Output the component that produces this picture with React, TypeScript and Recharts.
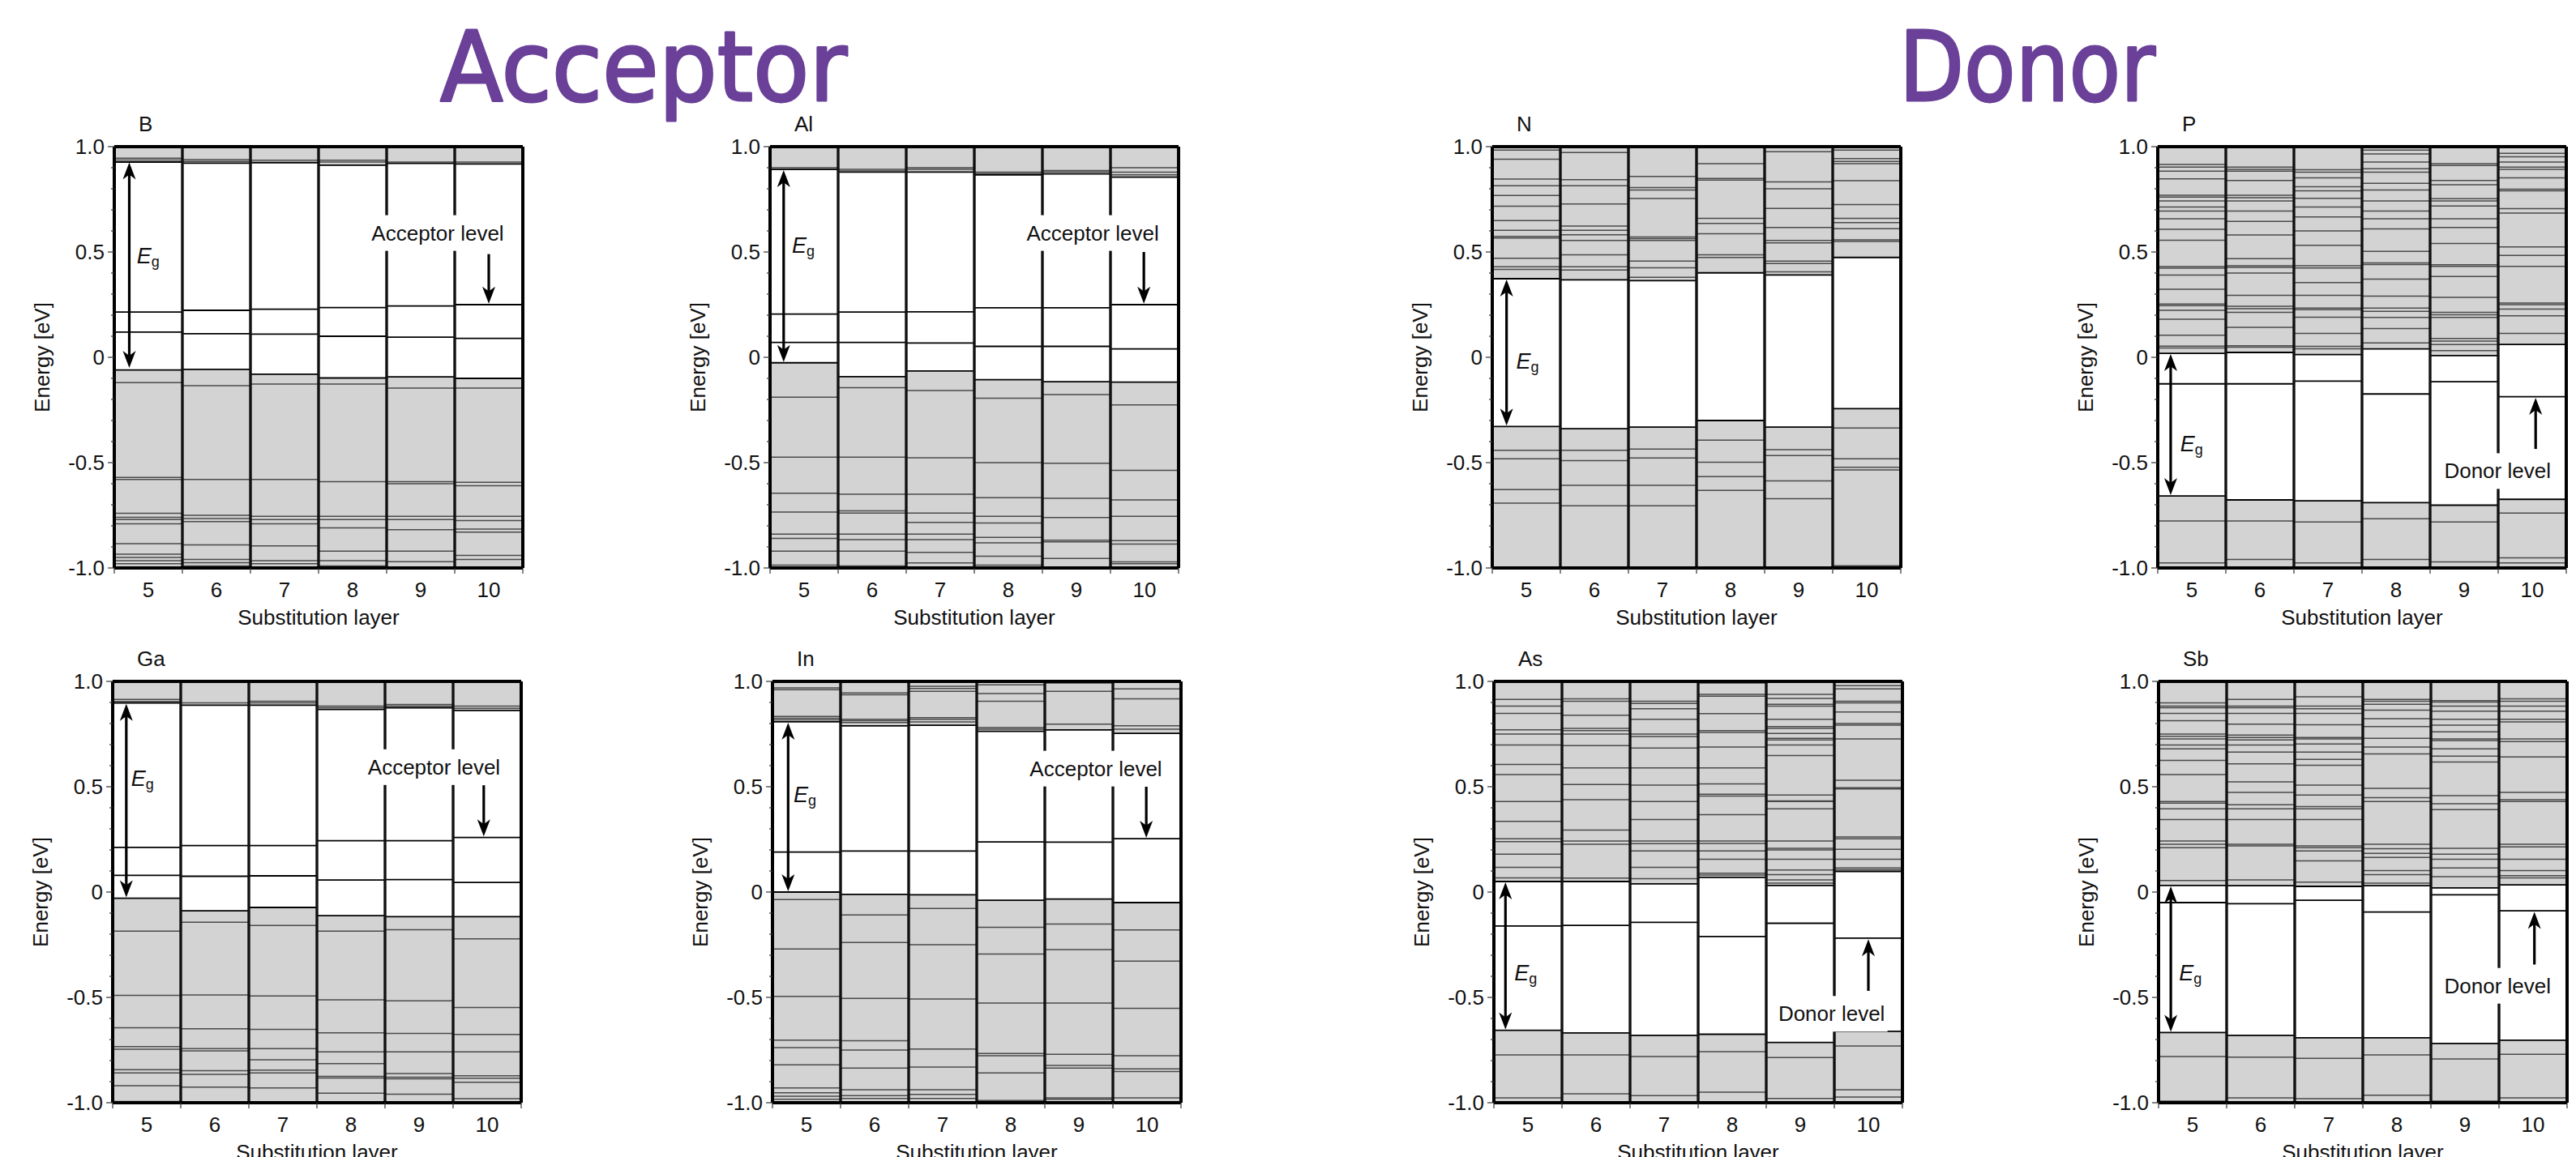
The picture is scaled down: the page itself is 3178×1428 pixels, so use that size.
import { ComposedChart, Bar, XAxis, YAxis, ReferenceLine, ReferenceDot, Label } from 'recharts';

// substitution layers and axis ticks
const LAYERS = [5, 6, 7, 8, 9, 10];
const X_TICKS = [4.5, 5, 5.5, 6, 6.5, 7, 7.5, 8, 8.5, 9, 9.5, 10, 10.5];
const Y_TICKS = [-1, -0.9, -0.8, -0.7, -0.6, -0.5, -0.4, -0.3, -0.2, -0.1, 0, 0.1, 0.2, 0.3, 0.4, 0.5, 0.6, 0.7, 0.8, 0.9, 1];
const Y_MAJOR = [-1, -0.5, 0, 0.5, 1];
const Y_MAJOR_LABELS = ['-1.0', '-0.5', '0', '0.5', '1.0'];

// ---- B ----
const B_VBM = [-0.06, -0.057, -0.08, -0.098, -0.093, -0.1];
const B_CBM = [0.927, 0.922, 0.924, 0.912, 0.921, 0.918];
const B_CB = [[0.945, 0.937], [0.938, 0.93], [0.936], [0.936, 0.927], [0.927], [0.927]];
const B_GAP = [[0.215, 0.12], [0.223, 0.112], [0.228, 0.11], [0.236, 0.1], [0.244, 0.096], [0.25, 0.09]];
const B_VB = [
  [-0.12, -0.57, -0.58, -0.74, -0.76, -0.77, -0.79, -0.885, -0.935, -0.95, -0.965, -0.98, -0.995],
  [-0.135, -0.58, -0.75, -0.765, -0.78, -0.89, -0.96, -0.975, -0.99],
  [-0.127, -0.58, -0.755, -0.77, -0.79, -0.895, -0.965, -0.98, -0.995],
  [-0.127, -0.59, -0.755, -0.77, -0.81, -0.92, -0.965, -0.99],
  [-0.146, -0.59, -0.6, -0.755, -0.77, -0.818, -0.92, -0.97],
  [-0.146, -0.593, -0.61, -0.755, -0.775, -0.815, -0.83, -0.94, -0.96],
];

// ---- Al ----
const AL_VBM = [-0.026, -0.092, -0.065, -0.106, -0.116, -0.118];
const AL_CBM = [0.892, 0.879, 0.879, 0.866, 0.871, 0.855];
const AL_CB = [[0.9], [0.892, 0.885], [0.9, 0.892], [0.879, 0.872], [0.887, 0.88], [0.9, 0.879, 0.866]];
const AL_GAP = [[0.205, 0.071], [0.215, 0.071], [0.216, 0.068], [0.235, 0.052], [0.235, 0.052], [0.25, 0.04]];
const AL_VB = [
  [-0.189, -0.474, -0.645, -0.735, -0.839, -0.86, -0.92, -0.987],
  [-0.144, -0.474, -0.65, -0.729, -0.739, -0.839, -0.865, -0.92, -0.99],
  [-0.158, -0.477, -0.65, -0.739, -0.784, -0.839, -0.865, -0.926, -0.976],
  [-0.194, -0.5, -0.666, -0.755, -0.787, -0.855, -0.881, -0.944, -0.987],
  [-0.177, -0.503, -0.669, -0.761, -0.868, -0.876, -0.955, -0.997],
  [-0.226, -0.537, -0.677, -0.755, -0.87, -0.887, -0.971, -0.98],
];

// ---- Ga ----
const GA_VBM = [-0.029, -0.089, -0.073, -0.112, -0.117, -0.117];
const GA_CBM = [0.898, 0.887, 0.887, 0.867, 0.875, 0.862];
const GA_CB = [[0.914, 0.905], [0.898], [0.906, 0.898], [0.883, 0.875], [0.89, 0.883], [0.883, 0.872]];
const GA_GAP = [[0.212, 0.079], [0.221, 0.075], [0.221, 0.077], [0.244, 0.057], [0.244, 0.059], [0.259, 0.046]];
const GA_VB = [
  [-0.186, -0.49, -0.644, -0.734, -0.746, -0.843, -0.859, -0.919, -0.994],
  [-0.143, -0.488, -0.649, -0.743, -0.754, -0.848, -0.865, -0.926],
  [-0.159, -0.493, -0.652, -0.743, -0.796, -0.845, -0.859, -0.93],
  [-0.186, -0.512, -0.668, -0.759, -0.814, -0.875, -0.883, -0.955],
  [-0.179, -0.516, -0.671, -0.759, -0.862, -0.879, -0.887, -0.96],
  [-0.222, -0.548, -0.676, -0.759, -0.872, -0.884, -0.903, -0.981],
];

// ---- In ----
const IN_VBM = [0, -0.011, -0.013, -0.039, -0.033, -0.05];
const IN_CBM = [0.808, 0.789, 0.792, 0.763, 0.77, 0.753];
const IN_CB = [
  [0.969, 0.961, 0.834, 0.825, 0.817],
  [0.945, 0.937, 0.82, 0.813, 0.805],
  [0.977, 0.966, 0.953, 0.828, 0.82, 0.808],
  [0.984, 0.942, 0.906, 0.781, 0.773],
  [0.992, 0.953, 0.797],
  [0.964, 0.917, 0.789, 0.773],
];
const IN_GAP = [[0.19], [0.195], [0.195], [0.238], [0.237], [0.253]];
const IN_VB = [
  [-0.036, -0.27, -0.495, -0.703, -0.738, -0.82, -0.93, -0.953, -0.969, -0.984],
  [-0.109, -0.239, -0.505, -0.706, -0.75, -0.836, -0.938, -0.966, -0.98],
  [-0.078, -0.25, -0.508, -0.745, -0.831, -0.938, -0.961, -0.98],
  [-0.167, -0.294, -0.527, -0.766, -0.777, -0.859, -0.989],
  [-0.152, -0.273, -0.527, -0.77, -0.823, -0.836, -0.977, -0.984],
  [-0.18, -0.328, -0.552, -0.777, -0.839, -0.852, -0.977],
];

// ---- N ----
const N_VBM = [-0.328, -0.339, -0.331, -0.3, -0.331, -0.244];
const N_CBM = [0.373, 0.368, 0.364, 0.401, 0.391, 0.474];
const N_CB = [
  [0.984, 0.94, 0.846, 0.814, 0.768, 0.717, 0.649, 0.603, 0.574, 0.566, 0.47, 0.43, 0.417],
  [0.972, 0.843, 0.814, 0.728, 0.623, 0.603, 0.582, 0.555, 0.487, 0.43, 0.414],
  [0.859, 0.806, 0.794, 0.754, 0.571, 0.563, 0.555, 0.457, 0.425, 0.38],
  [0.919, 0.849, 0.841, 0.66, 0.636, 0.587, 0.487, 0.474],
  [0.976, 0.833, 0.8, 0.707, 0.616, 0.555, 0.543, 0.457, 0.445, 0.406],
  [0.984, 0.943, 0.93, 0.919, 0.838, 0.725, 0.66, 0.639, 0.611, 0.558, 0.55],
];
const N_GAP: number[][] = [[], [], [], [], [], []];
const N_VB = [
  [-0.441, -0.482, -0.628, -0.692, -0.997],
  [-0.441, -0.49, -0.608, -0.705],
  [-0.436, -0.478, -0.608, -0.705],
  [-0.393, -0.498, -0.566, -0.632],
  [-0.438, -0.466, -0.587, -0.671],
  [-0.336, -0.482, -0.522, -0.535, -0.989],
];

// ---- P ----
const P_VBM = [-0.658, -0.677, -0.681, -0.69, -0.702, -0.674];
const P_CBM = [0.019, 0.023, 0.013, 0.04, 0.008, 0.061];
const P_CB = [
  [0.915, 0.903, 0.884, 0.847, 0.769, 0.761, 0.742, 0.713, 0.694, 0.658, 0.608, 0.556, 0.431, 0.423, 0.39, 0.323, 0.253, 0.245, 0.223, 0.181, 0.105, 0.053, 0.044],
  [0.903, 0.892, 0.884, 0.839, 0.769, 0.758, 0.742, 0.694, 0.645, 0.581, 0.468, 0.435, 0.427, 0.4, 0.294, 0.242, 0.231, 0.213, 0.142, 0.055, 0.048],
  [0.89, 0.879, 0.852, 0.81, 0.79, 0.755, 0.713, 0.666, 0.6, 0.532, 0.435, 0.424, 0.355, 0.294, 0.234, 0.226, 0.19, 0.113, 0.052, 0.04],
  [0.984, 0.965, 0.927, 0.895, 0.879, 0.826, 0.794, 0.742, 0.694, 0.658, 0.61, 0.503, 0.448, 0.44, 0.371, 0.29, 0.234, 0.218, 0.189, 0.137, 0.068],
  [0.919, 0.911, 0.839, 0.819, 0.753, 0.742, 0.718, 0.658, 0.616, 0.54, 0.439, 0.432, 0.384, 0.285, 0.213, 0.202, 0.189, 0.089, 0.077, 0.061, 0.032],
  [0.968, 0.952, 0.927, 0.903, 0.892, 0.852, 0.798, 0.79, 0.706, 0.685, 0.524, 0.484, 0.432, 0.258, 0.25, 0.229, 0.197, 0.113],
];
const P_GAP = [[-0.126], [-0.126], [-0.113], [-0.174], [-0.116], [-0.187]];
const P_VB = [[-0.777, -0.976], [-0.777, -0.96], [-0.782, -0.976], [-0.766, -0.96], [-0.782, -0.971], [-0.739, -0.952, -0.976]];

// ---- As ----
const AS_VBM = [-0.656, -0.669, -0.68, -0.675, -0.714, -0.661];
const AS_CBM = [0.05, 0.05, 0.039, 0.07, 0.031, 0.098];
const AS_CB = [
  [0.914, 0.883, 0.848, 0.77, 0.75, 0.698, 0.606, 0.558, 0.43, 0.336, 0.253, 0.239, 0.18, 0.117, 0.067],
  [0.917, 0.906, 0.839, 0.777, 0.766, 0.75, 0.695, 0.589, 0.511, 0.438, 0.294, 0.242, 0.227, 0.066],
  [0.906, 0.895, 0.87, 0.82, 0.75, 0.738, 0.684, 0.589, 0.508, 0.43, 0.344, 0.242, 0.23, 0.195, 0.117, 0.063],
  [0.992, 0.938, 0.93, 0.847, 0.766, 0.758, 0.688, 0.589, 0.513, 0.464, 0.456, 0.367, 0.242, 0.231, 0.195, 0.156, 0.089, 0.081],
  [0.938, 0.919, 0.891, 0.883, 0.82, 0.786, 0.777, 0.753, 0.73, 0.722, 0.698, 0.648, 0.461, 0.433, 0.43, 0.395, 0.242, 0.208, 0.2, 0.156, 0.105, 0.083, 0.058, 0.042],
  [0.98, 0.964, 0.906, 0.898, 0.855, 0.8, 0.792, 0.727, 0.531, 0.495, 0.489, 0.262, 0.253, 0.203, 0.156, 0.114, 0.106],
];
const AS_GAP = [[-0.161], [-0.158], [-0.144], [-0.211], [-0.148], [-0.219]];
const AS_VB = [[-0.773, -0.977], [-0.773, -0.958], [-0.781, -0.966], [-0.758, -0.95], [-0.786, -0.98], [-0.731, -0.938, -0.973]];

// ---- Sb ----
const SB_VBM = [-0.667, -0.68, -0.692, -0.692, -0.719, -0.703];
const SB_CBM = [0.031, 0.03, 0.027, 0.03, 0.02, 0.034];
const SB_CB = [
  [0.898, 0.883, 0.875, 0.848, 0.813, 0.75, 0.739, 0.727, 0.698, 0.68, 0.625, 0.558, 0.43, 0.422, 0.395, 0.344, 0.242, 0.227, 0.211, 0.055],
  [0.914, 0.883, 0.875, 0.848, 0.797, 0.745, 0.734, 0.722, 0.698, 0.664, 0.609, 0.523, 0.473, 0.414, 0.395, 0.344, 0.227, 0.219, 0.058],
  [0.927, 0.883, 0.87, 0.848, 0.794, 0.734, 0.727, 0.703, 0.664, 0.63, 0.602, 0.508, 0.461, 0.406, 0.395, 0.344, 0.219, 0.211, 0.195, 0.148, 0.047],
  [0.914, 0.906, 0.891, 0.863, 0.823, 0.786, 0.73, 0.688, 0.656, 0.492, 0.448, 0.43, 0.227, 0.206, 0.184, 0.164, 0.102, 0.083, 0.042],
  [0.909, 0.902, 0.883, 0.859, 0.82, 0.792, 0.761, 0.727, 0.719, 0.68, 0.645, 0.617, 0.458, 0.419, 0.391, 0.208, 0.18, 0.156, 0.114, 0.073],
  [0.917, 0.906, 0.883, 0.859, 0.82, 0.808, 0.727, 0.714, 0.641, 0.473, 0.438, 0.43, 0.227, 0.214, 0.156, 0.102, 0.078, 0.067],
];
const SB_GAP = [[-0.05], [-0.055], [-0.039], [-0.095], [-0.013], [-0.089]];
const SB_VB = [[-0.781, -0.992], [-0.784, -0.977], [-0.789, -0.981], [-0.773, -0.964], [-0.792, -0.992], [-0.77, -0.977]];

interface Note {
  text: string;
  x: number;
  y: number;
  boxW: number;
  arrowX: number;
  from: number;
  to: number;
}

interface Panel {
  name: string;
  left: number;
  top: number;
  vbm: number[];
  cbm: number[];
  vb: number[][];
  cb: number[][];
  gap: number[][];
  eg: { x: number; top: number; bottom: number; labelX: number; labelY: number };
  note?: Note;
}

const ACC = 'Acceptor level';
const DON = 'Donor level';

const PANELS: Panel[] = [
  {
    name: 'B', left: 141, top: 181, vbm: B_VBM, cbm: B_CBM, vb: B_VB, cb: B_CB, gap: B_GAP,
    eg: { x: 4.72, top: 0.925, bottom: -0.05, labelX: 4.83, labelY: 0.48 },
    note: { text: ACC, x: 9.25, y: 0.59, boxW: 172, arrowX: 10, from: 0.49, to: 0.255 },
  },
  {
    name: 'Al', left: 950, top: 181, vbm: AL_VBM, cbm: AL_CBM, vb: AL_VB, cb: AL_CB, gap: AL_GAP,
    eg: { x: 4.7, top: 0.888, bottom: -0.022, labelX: 4.82, labelY: 0.53 },
    note: { text: ACC, x: 9.24, y: 0.59, boxW: 172, arrowX: 9.99, from: 0.5, to: 0.255 },
  },
  {
    name: 'N', left: 1841, top: 181, vbm: N_VBM, cbm: N_CBM, vb: N_VB, cb: N_CB, gap: N_GAP,
    eg: { x: 4.71, top: 0.369, bottom: -0.324, labelX: 4.85, labelY: -0.02 },
  },
  {
    name: 'P', left: 2662, top: 181, vbm: P_VBM, cbm: P_CBM, vb: P_VB, cb: P_CB, gap: P_GAP,
    eg: { x: 4.69, top: 0.015, bottom: -0.654, labelX: 4.83, labelY: -0.41 },
    note: { text: DON, x: 9.49, y: -0.54, boxW: 138, arrowX: 10.05, from: -0.435, to: -0.192 },
  },
  {
    name: 'Ga', left: 139, top: 841, vbm: GA_VBM, cbm: GA_CBM, vb: GA_VB, cb: GA_CB, gap: GA_GAP,
    eg: { x: 4.7, top: 0.893, bottom: -0.025, labelX: 4.77, labelY: 0.54 },
    note: { text: ACC, x: 9.22, y: 0.593, boxW: 172, arrowX: 9.95, from: 0.507, to: 0.264 },
  },
  {
    name: 'In', left: 953, top: 841, vbm: IN_VBM, cbm: IN_CBM, vb: IN_VB, cb: IN_CB, gap: IN_GAP,
    eg: { x: 4.73, top: 0.804, bottom: 0.004, labelX: 4.81, labelY: 0.46 },
    note: { text: ACC, x: 9.25, y: 0.586, boxW: 172, arrowX: 9.99, from: 0.5, to: 0.258 },
  },
  {
    name: 'As', left: 1843, top: 841, vbm: AS_VBM, cbm: AS_CBM, vb: AS_VB, cb: AS_CB, gap: AS_GAP,
    eg: { x: 4.67, top: 0.046, bottom: -0.652, labelX: 4.8, labelY: -0.383 },
    note: { text: DON, x: 9.46, y: -0.578, boxW: 138, arrowX: 10, from: -0.469, to: -0.224 },
  },
  {
    name: 'Sb', left: 2663, top: 841, vbm: SB_VBM, cbm: SB_CBM, vb: SB_VB, cb: SB_CB, gap: SB_GAP,
    eg: { x: 4.68, top: 0.027, bottom: -0.663, labelX: 4.8, labelY: -0.383 },
    note: { text: DON, x: 9.48, y: -0.445, boxW: 138, arrowX: 10.02, from: -0.344, to: -0.094 },
  },
];

const FONT = '"Liberation Sans", Arial, Helvetica, sans-serif';
const GRAY = '#d3d3d3';
const PURPLE = '#6a4098';
const PLOT_W = 504;
const PLOT_H = 520;
const AXIS_W = 110;
const PAD_TOP = 50;
const PAD_RIGHT = 16;
const X_AXIS_H = 80;
const X_MIN = LAYERS[0] - 0.5;
const X_MAX = LAYERS[LAYERS.length - 1] + 0.5;
const Y_MIN = -1;
const Y_MAX = 1;

function YTick(props: any) {
  const { x, y, payload } = props;
  const idx = Y_MAJOR.indexOf(payload.value);
  return (
    <g>
      <line x1={x} x2={x - (idx >= 0 ? 8 : 4)} y1={y} y2={y} stroke="#333" strokeWidth={1.2} />
      {idx >= 0 && (
        <text x={x - 12} y={y} textAnchor="end" dominantBaseline="central" fontSize={26} fontFamily={FONT} fill="#111">
          {Y_MAJOR_LABELS[idx]}
        </text>
      )}
    </g>
  );
}

function XTick(props: any) {
  const { x, y, payload } = props;
  const v = payload.value;
  if (Number.isInteger(v)) {
    return (
      <text x={x} y={y + 27} textAnchor="middle" dominantBaseline="central" fontSize={26} fontFamily={FONT} fill="#111">
        {v}
      </text>
    );
  }
  return <line x1={x} x2={x} y1={y} y2={y + 7} stroke="#333" strokeWidth={1.2} />;
}

function arrowShape(both: boolean) {
  return (props: any) => {
    const { x1, y1, x2, y2 } = props;
    const len = Math.hypot(x2 - x1, y2 - y1) || 1;
    const ux = (x2 - x1) / len;
    const uy = (y2 - y1) / len;
    const H = 21;
    const W = 8;
    const head = (tx: number, ty: number, dx: number, dy: number) =>
      `${tx},${ty} ${tx - dx * H - dy * W},${ty - dy * H + dx * W} ${tx - dx * H * 0.72},${ty - dy * H * 0.72} ${tx - dx * H + dy * W},${ty - dy * H - dx * W}`;
    const sx = both ? x1 + ux * H * 0.6 : x1;
    const sy = both ? y1 + uy * H * 0.6 : y1;
    return (
      <g>
        <line x1={sx} y1={sy} x2={x2 - ux * H * 0.6} y2={y2 - uy * H * 0.6} stroke="#000" strokeWidth={3.2} />
        <polygon points={head(x2, y2, ux, uy)} fill="#000" />
        {both && <polygon points={head(x1, y1, -ux, -uy)} fill="#000" />}
      </g>
    );
  };
}

function noteShape(text: string, boxW: number) {
  return (props: any) => {
    const { cx, cy } = props;
    return (
      <g>
        <rect x={cx - boxW / 2} y={cy - 22} width={boxW} height={44} fill="#fff" />
        <text x={cx} y={cy} textAnchor="middle" dominantBaseline="central" fontSize={26} fontFamily={FONT} fill="#111">
          {text}
        </text>
      </g>
    );
  };
}

const egShape = (props: any) => (
  <text x={props.cx} y={props.cy} dominantBaseline="central" fontSize={27} fontFamily={FONT} fill="#111">
    <tspan fontStyle="italic">E</tspan>
    <tspan fontSize={18} dy={7}>g</tspan>
  </text>
);

function YTitle(props: any) {
  const vb = props.viewBox || { x: 0, y: PAD_TOP, width: AXIS_W, height: PLOT_H };
  const x = vb.x + vb.width - 89;
  const y = vb.y + vb.height / 2;
  return (
    <text x={x} y={y} transform={`rotate(-90 ${x} ${y})`} textAnchor="middle" dominantBaseline="central" fontSize={26} fontFamily={FONT} fill="#111">
      Energy [eV]
    </text>
  );
}

function XTitle(props: any) {
  const vb = props.viewBox || { x: AXIS_W, y: PAD_TOP + PLOT_H, width: PLOT_W, height: X_AXIS_H };
  return (
    <text x={vb.x + vb.width / 2} y={vb.y + 61} textAnchor="middle" dominantBaseline="central" fontSize={26} fontFamily={FONT} fill="#111">
      Substitution layer
    </text>
  );
}

function EnergyPanel({ p }: { p: Panel }) {
  const rows = LAYERS.map((layer, i) => ({
    layer: String(layer),
    x: layer,
    vb: [Y_MIN, p.vbm[i]],
    cb: [p.cbm[i], Y_MAX],
  }));
  const levels = LAYERS.flatMap((layer, i) => [
    ...p.vb[i].map((e) => ({ layer, e, gap: false })),
    ...p.cb[i].map((e) => ({ layer, e, gap: false })),
    ...p.gap[i].map((e) => ({ layer, e, gap: true })),
  ]);
  const note = p.note;

  return (
    <div style={{ position: 'absolute', left: p.left - AXIS_W, top: p.top - PAD_TOP }}>
      <div
        style={{
          position: 'absolute', left: AXIS_W + 30, top: PAD_TOP - 42, fontSize: 26,
          lineHeight: '28px', fontFamily: FONT, color: '#111',
        }}
      >
        {p.name}
      </div>
      <ComposedChart
        width={AXIS_W + PLOT_W + PAD_RIGHT}
        height={PAD_TOP + PLOT_H + X_AXIS_H}
        data={rows}
        margin={{ top: PAD_TOP, right: PAD_RIGHT, bottom: 0, left: 0 }}
        barCategoryGap={0}
        barGap={0}
      >
        <XAxis
          dataKey="x"
          type="number"
          domain={[X_MIN, X_MAX]}
          allowDataOverflow
          ticks={X_TICKS}
          interval={0}
          height={X_AXIS_H}
          tickSize={0}
          tickMargin={0}
          axisLine={false}
          tickLine={false}
          tick={<XTick />}
        >
          <Label content={<XTitle />} />
        </XAxis>
        <XAxis xAxisId="vbAxis" dataKey="layer" type="category" hide />
        <XAxis xAxisId="cbAxis" dataKey="layer" type="category" hide />
        <YAxis
          type="number"
          domain={[Y_MIN, Y_MAX]}
          allowDataOverflow
          ticks={Y_TICKS}
          interval={0}
          width={AXIS_W}
          tickSize={0}
          tickMargin={0}
          axisLine={false}
          tickLine={false}
          tick={<YTick />}
        >
          <Label content={<YTitle />} />
        </YAxis>

        <Bar xAxisId="vbAxis" dataKey="vb" fill={GRAY} stroke="#000" strokeWidth={1.8} isAnimationActive={false} />
        <Bar xAxisId="cbAxis" dataKey="cb" fill={GRAY} stroke="#000" strokeWidth={1.8} isAnimationActive={false} />

        {levels.map((lv, k) => (
          <ReferenceLine
            key={`lv${k}`}
            segment={[{ x: lv.layer - 0.5, y: lv.e }, { x: lv.layer + 0.5, y: lv.e }]}
            stroke={lv.gap ? '#000' : '#4a4a4a'}
            strokeWidth={lv.gap ? 1.8 : 1.5}
            ifOverflow="visible"
          />
        ))}

        {LAYERS.slice(1).map((layer) => (
          <ReferenceLine key={`sep${layer}`} x={layer - 0.5} stroke="#111" strokeWidth={3.4} ifOverflow="visible" />
        ))}
        <ReferenceLine x={X_MIN} stroke="#000" strokeWidth={4} ifOverflow="visible" />
        <ReferenceLine x={X_MAX} stroke="#000" strokeWidth={4} ifOverflow="visible" />
        <ReferenceLine y={Y_MIN} stroke="#000" strokeWidth={4} ifOverflow="visible" />
        <ReferenceLine y={Y_MAX} stroke="#000" strokeWidth={4} ifOverflow="visible" />

        <ReferenceLine
          segment={[{ x: p.eg.x, y: p.eg.top }, { x: p.eg.x, y: p.eg.bottom }]}
          shape={arrowShape(true)}
          ifOverflow="visible"
        />
        <ReferenceDot x={p.eg.labelX} y={p.eg.labelY} shape={egShape} ifOverflow="visible" />

        {note && <ReferenceDot x={note.x} y={note.y} shape={noteShape(note.text, note.boxW)} ifOverflow="visible" />}
        {note && (
          <ReferenceLine
            segment={[{ x: note.arrowX, y: note.from }, { x: note.arrowX, y: note.to }]}
            shape={arrowShape(false)}
            ifOverflow="visible"
          />
        )}
      </ComposedChart>
    </div>
  );
}

export default function App() {
  return (
    <div
      style={{
        position: 'absolute', left: 0, top: 0, width: 3178, height: 1428,
        background: '#fff', overflow: 'hidden', fontFamily: FONT,
      }}
    >
      <svg width={3178} height={160} style={{ position: 'absolute', left: 0, top: 0 }}>
        <text x={543} y={124} fill={PURPLE} stroke={PURPLE} strokeWidth={3} strokeLinejoin="round" fontFamily="DejaVu Sans" fontSize={120} textLength={502} lengthAdjust="spacingAndGlyphs">
          Acceptor
        </text>
        <text x={2343} y={124} fill={PURPLE} stroke={PURPLE} strokeWidth={3} strokeLinejoin="round" fontFamily="DejaVu Sans" fontSize={120} textLength={316} lengthAdjust="spacingAndGlyphs">
          Donor
        </text>
      </svg>
      {PANELS.map((p) => (
        <EnergyPanel key={p.name} p={p} />
      ))}
    </div>
  );
}
